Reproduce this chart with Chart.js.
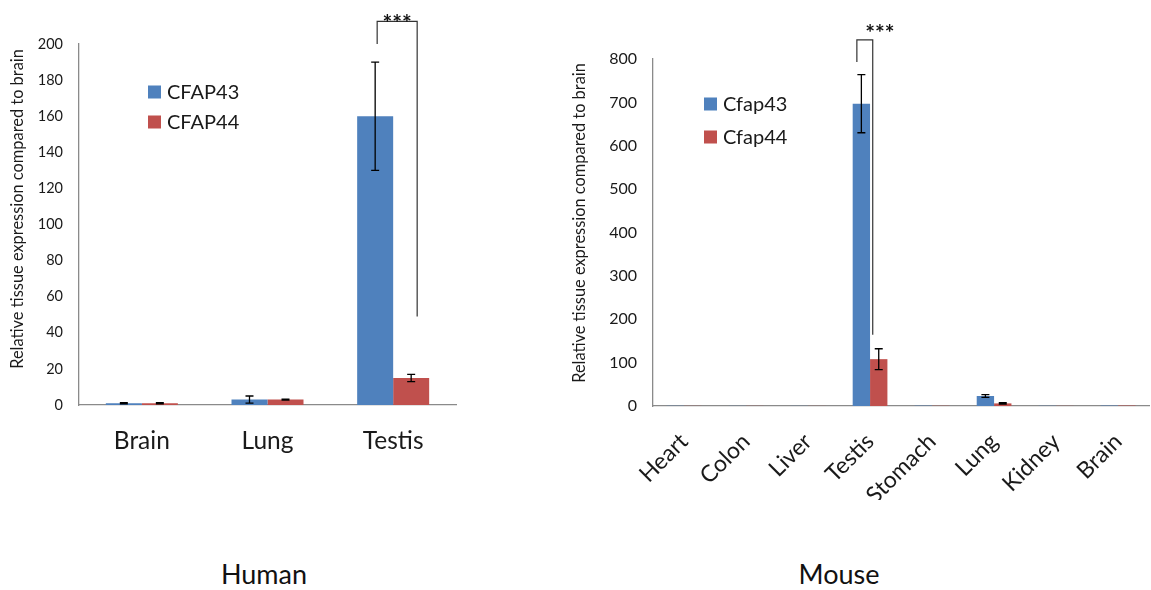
<!DOCTYPE html>
<html>
<head>
<meta charset="utf-8">
<script src="https://cdn.jsdelivr.net/npm/chart.js@4.4.1/dist/chart.umd.min.js"></script>
<style>
  html, body { margin: 0; padding: 0; background: #fff; overflow: hidden; }
  body { width: 1151px; height: 590px; position: relative; font-family: Lato, sans-serif; }
  .box { position: absolute; }
  #humanBox { left: 0; top: 0; width: 470px; height: 470px; }
  #mouseBox { left: 560px; top: 0; width: 600px; height: 500px; }
  .species { position: absolute; top: 557px; font-size: 27px; color: #111; transform: translateX(-50%); }
</style>
</head>
<body>
<div class="box" id="humanBox"><canvas id="humanChart"></canvas></div>
<div class="box" id="mouseBox"><canvas id="mouseChart"></canvas></div>
<div class="species" style="left:264px">Human</div>
<div class="species" style="left:839px">Mouse</div>
<script>
// Excel 2007 palette
const BLUE = "#4f81bd";
const RED = "#c0504d";
const AXIS = "#8a8a8a";
const INK = "#1a1a1a";

// Human qPCR
const humanTissues = ["Brain", "Lung", "Testis"];
const humanCfap43 = [1, 3, 160];
const humanCfap43Err = [0.3, 2, 30];
const humanCfap44 = [1, 3, 15];
const humanCfap44Err = [0.3, 0.3, 2];
const humanTicks = [0, 20, 40, 60, 80, 100, 120, 140, 160, 180, 200];

// Mouse qPCR
const mouseTissues = ["Heart", "Colon", "Liver", "Testis", "Stomach", "Lung", "Kidney", "Brain"];
const mouseCfap43 = [0.5, 0.3, 0.3, 697, 0.8, 23, 0.5, 1];
const mouseCfap43Err = [0, 0, 0, 67, 0, 3, 0, 0];
const mouseCfap44 = [0.3, 0.3, 0.2, 108, 0.5, 6, 0.3, 1];
const mouseCfap44Err = [0, 0, 0, 24, 0, 1.5, 0, 0];
const mouseTicks = [0, 100, 200, 300, 400, 500, 600, 700, 800];

Chart.defaults.font.family = "Lato, sans-serif";
Chart.defaults.color = INK;

// error bars, significance bracket, legend and y title, all placed with the chart's scales
const overlay = {
  id: "overlay",
  afterDatasetsDraw(chart, args, o) {
    const ctx = chart.ctx;
    const ys = chart.scales.y;
    ctx.save();
    ctx.strokeStyle = "#000";
    ctx.lineWidth = 1.3;
    o.errors.forEach((errs, di) => {
      const meta = chart.getDatasetMeta(di);
      meta.data.forEach((bar, i) => {
        const e = errs[i];
        if (!e) return;
        const v = chart.data.datasets[di].data[i];
        const t = ys.getPixelForValue(v + e);
        const b = ys.getPixelForValue(Math.max(0, v - e));
        ctx.beginPath();
        ctx.moveTo(bar.x, t); ctx.lineTo(bar.x, b);
        ctx.moveTo(bar.x - 4, t); ctx.lineTo(bar.x + 4, t);
        ctx.moveTo(bar.x - 4, b); ctx.lineTo(bar.x + 4, b);
        ctx.stroke();
      });
    });
    ctx.restore();
  },
  afterDraw(chart, args, o) {
    const ctx = chart.ctx;
    const ys = chart.scales.y;
    ctx.save();

    // bracket
    const br = o.bracket;
    const x0 = chart.getDatasetMeta(0).data[br.index].x + br.dx0;
    const x1 = chart.getDatasetMeta(1).data[br.index].x + br.dx1;
    const yTop = ys.getPixelForValue(br.top);
    ctx.strokeStyle = "#333";
    ctx.lineWidth = 1.2;
    ctx.beginPath();
    ctx.moveTo(x0, ys.getPixelForValue(br.from));
    ctx.lineTo(x0, yTop);
    ctx.lineTo(x1, yTop);
    ctx.lineTo(x1, ys.getPixelForValue(br.to));
    ctx.stroke();
    ctx.fillStyle = "#111";
    ctx.font = "bold 23px Lato";
    ctx.textAlign = "center";
    ctx.textBaseline = "alphabetic";
    ctx.fillText("***", (x0 + x1) / 2 + br.starsDx, yTop + br.starsDy);

    // legend
    const lg = o.legend;
    ctx.font = lg.size + "px Lato";
    ctx.textAlign = "left";
    ctx.textBaseline = "middle";
    chart.data.datasets.forEach((ds, i) => {
      const cy = lg.y + i * lg.gap;
      ctx.fillStyle = ds.backgroundColor;
      ctx.fillRect(lg.x, cy - 6.5, 13, 13);
      ctx.fillStyle = INK;
      ctx.fillText(ds.label, lg.x + 19, cy + 1);
    });

    // y axis title
    ctx.translate(o.title.x, o.title.y);
    ctx.rotate(-Math.PI / 2);
    ctx.font = "16.4px Lato";
    ctx.textAlign = "center";
    ctx.textBaseline = "middle";
    ctx.fillStyle = INK;
    ctx.fillText("Relative tissue expression compared to brain", 0, 0);
    ctx.restore();
  },
};

function qpcrChart(canvasId, opts) {
  return new Chart(document.getElementById(canvasId), {
    type: "bar",
    data: {
      labels: opts.labels,
      datasets: [
        { label: opts.names[0], data: opts.a, backgroundColor: BLUE, barPercentage: 1, categoryPercentage: opts.catPct },
        { label: opts.names[1], data: opts.b, backgroundColor: RED, barPercentage: 1, categoryPercentage: opts.catPct },
      ],
    },
    options: {
      responsive: true,
      maintainAspectRatio: false,
      animation: false,
      layout: { padding: { top: opts.padTop, right: opts.padRight, left: 0, bottom: 0 } },
      plugins: {
        legend: { display: false },
        tooltip: { enabled: false },
        overlay: {
          errors: [opts.aErr, opts.bErr],
          bracket: opts.bracket,
          legend: opts.legend,
          title: opts.title,
        },
      },
      scales: {
        x: {
          grid: { display: false, drawTicks: false },
          border: { color: AXIS, width: 1.3 },
          ticks: {
            font: { size: opts.xFont },
            color: INK,
            padding: opts.xPad,
            autoSkip: false,
            minRotation: opts.rot,
            maxRotation: opts.rot,
          },
          afterFit: (s) => { s.height = opts.xHeight; },
        },
        y: {
          min: 0,
          max: opts.ticks[opts.ticks.length - 1],
          grid: { display: false, drawTicks: false },
          border: { color: AXIS, width: 1.3 },
          afterBuildTicks: (s) => { s.ticks = opts.ticks.map((v) => ({ value: v })); },
          ticks: { font: { size: opts.yFont }, color: INK, padding: opts.yPad },
          afterFit: (s) => { s.width = opts.yWidth; },
        },
      },
    },
    plugins: [overlay],
  });
}

qpcrChart("humanChart", {
  labels: humanTissues,
  names: ["CFAP43", "CFAP44"],
  a: humanCfap43, aErr: humanCfap43Err,
  b: humanCfap44, bErr: humanCfap44Err,
  ticks: humanTicks,
  catPct: 0.573,
  padTop: 44, padRight: 14,
  yWidth: 79, xHeight: 65,
  yFont: 14.5, yPad: 16,
  xFont: 24.5, xPad: 21, rot: 0,
  bracket: { index: 2, dx0: 2, dx1: 6, from: 200, top: 212.5, to: 49, starsDx: 0, starsDy: 10 },
  legend: { x: 148, y: 92, gap: 30, size: 20 },
  title: { x: 18, y: 209 },
});

qpcrChart("mouseChart", {
  labels: mouseTissues,
  names: ["Cfap43", "Cfap44"],
  a: mouseCfap43, aErr: mouseCfap43Err,
  b: mouseCfap44, bErr: mouseCfap44Err,
  ticks: mouseTicks,
  catPct: 0.56,
  padTop: 59, padRight: 6,
  yWidth: 93, xHeight: 94,
  yFont: 16, yPad: 16,
  xFont: 23, xPad: 22, rot: 45,
  bracket: { index: 3, dx0: -4.5, dx1: -6, from: 793, top: 844, to: 164, starsDx: 15, starsDy: 1 },
  legend: { x: 144, y: 104, gap: 33, size: 20 },
  title: { x: 20, y: 223 },
});
</script>
</body>
</html>
